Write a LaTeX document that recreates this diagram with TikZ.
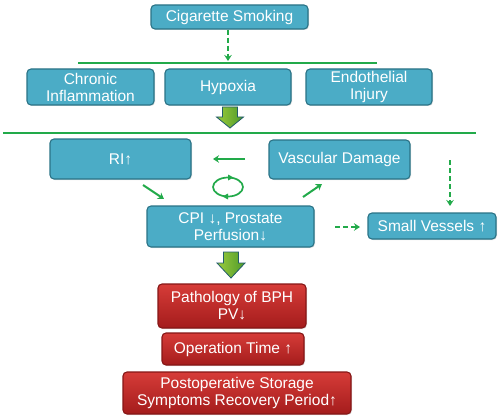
\documentclass[tikz,border=0pt]{standalone}
\usepackage{fontspec}
\setmainfont{Liberation Sans}
\usetikzlibrary{arrows.meta,shadows}
\definecolor{teal}{HTML}{4BACC6}
\definecolor{tealdark}{HTML}{2A7386}
\definecolor{gr}{HTML}{22AA4A}
\definecolor{redtop}{HTML}{D63C38}
\definecolor{redbot}{HTML}{A41C1C}
\definecolor{redline}{HTML}{861616}
\definecolor{lgreen}{HTML}{9BCB3C}
\definecolor{dgreen}{HTML}{4E9A2A}
\tikzset{
  box/.style={draw=tealdark, line width=1.1pt, fill=teal, rounded corners=4pt,
    text=white, align=center, inner sep=1pt,
    font=\fontsize{15.5}{17}\selectfont,
    drop shadow={shadow xshift=1pt, shadow yshift=-1pt, opacity=0.25}},
  redbox/.style={draw=redline, line width=1.1pt, top color=redtop, bottom color=redbot,
    rounded corners=4pt, text=white, align=center, inner sep=1pt,
    font=\fontsize{15.5}{17}\selectfont,
    drop shadow={shadow xshift=1pt, shadow yshift=-1pt, opacity=0.25}},
  garrow/.style={draw=gr, line width=2pt, -{Stealth[length=6pt,width=7.5pt]}},
  gdash/.style={garrow, dash pattern=on 5pt off 3pt},
  gline/.style={draw=gr, line width=1.6pt},
  blockarrow/.style={draw=tealdark!80!black, line width=0.8pt, left color=lgreen, right color=dgreen}
}
\begin{document}
\begin{tikzpicture}[x=1pt,y=-1pt]
\useasboundingbox (0,0) rectangle (500,417);
% top
\node[box, minimum width=157pt, minimum height=24pt] (cig) at (229.5,17) {Cigarette Smoking};
\coordinate (l1a) at (78,63);
\coordinate (l1b) at (377,63);
\draw[gline] (l1a) -- (l1b);
\coordinate (l1c) at (228,61);
\draw[gdash] (cig.south -| l1c) -- (l1c);
\node[box, minimum width=127pt, minimum height=36pt] (chr) at (90.5,87) {Chronic\\Inflammation};
\node[box, minimum width=126pt, minimum height=36pt] (hyp) at (228,87) {Hypoxia};
\node[box, minimum width=126pt, minimum height=36pt] (endo) at (369,87) {Endothelial\\Injury};
% block arrow 1
\draw[blockarrow] (222.5,107) -- (237.5,107) -- (237.5,117) -- (243.5,117) -- (230,128) -- (216.5,117) -- (222.5,117) -- cycle;
\coordinate (l2a) at (3,133);
\coordinate (l2b) at (476,133);
\draw[gline] (l2a) -- (l2b);
% middle
\node[box, minimum width=141pt, minimum height=40pt] (ri) at (120.5,159) {RI↑};
\node[box, minimum width=141pt, minimum height=39pt] (vd) at (339.5,159.5) {Vascular Damage};
\node[box, minimum width=167pt, minimum height=41pt] (cpi) at (230.5,226.5) {CPI ↓, Prostate\\Perfusion↓};
\node[box, minimum width=128pt, minimum height=26pt] (sv) at (432,226) {Small Vessels ↑};
\coordinate (a1s) at (245,159);
\coordinate (a1e) at (213,159);
\draw[garrow] (a1s) -- (a1e);
\coordinate (a2s) at (143,185);
\coordinate (a2e) at (164,199);
\draw[garrow] (a2s) -- (a2e);
\coordinate (a3s) at (303,197);
\coordinate (a3e) at (322,184);
\draw[garrow] (a3s) -- (a3e);
% cycle
\coordinate (cc) at (228,187);
\draw[gr, line width=1.7pt] (cc) ellipse [x radius=15pt, y radius=9.5pt];
\fill[gr] (233.5,177.5) -- (228,174.5) -- (228,180.5) -- cycle;
\fill[gr] (222.5,196.5) -- (228,193.5) -- (228,199.5) -- cycle;
% dashed arrows
\coordinate (d1s) at (335,227);
\coordinate (d1e) at (360,227);
\draw[gdash] (d1s) -- (d1e);
\coordinate (d2s) at (450,160);
\coordinate (d2e) at (450,206);
\draw[gdash] (d2s) -- (d2e);
% block arrow 2
\draw[blockarrow] (223.5,252) -- (238.5,252) -- (238.5,263) -- (245,263) -- (231,278) -- (217,263) -- (223.5,263) -- cycle;
% red boxes
\node[redbox, minimum width=148pt, minimum height=44pt] (path) at (232,306) {Pathology of BPH\\PV↓};
\node[redbox, minimum width=142pt, minimum height=32pt] (op) at (233,349) {Operation Time ↑};
\node[redbox, minimum width=228pt, minimum height=42pt] (post) at (237,393) {Postoperative Storage\\Symptoms Recovery Period↑};
\end{tikzpicture}
\end{document}
